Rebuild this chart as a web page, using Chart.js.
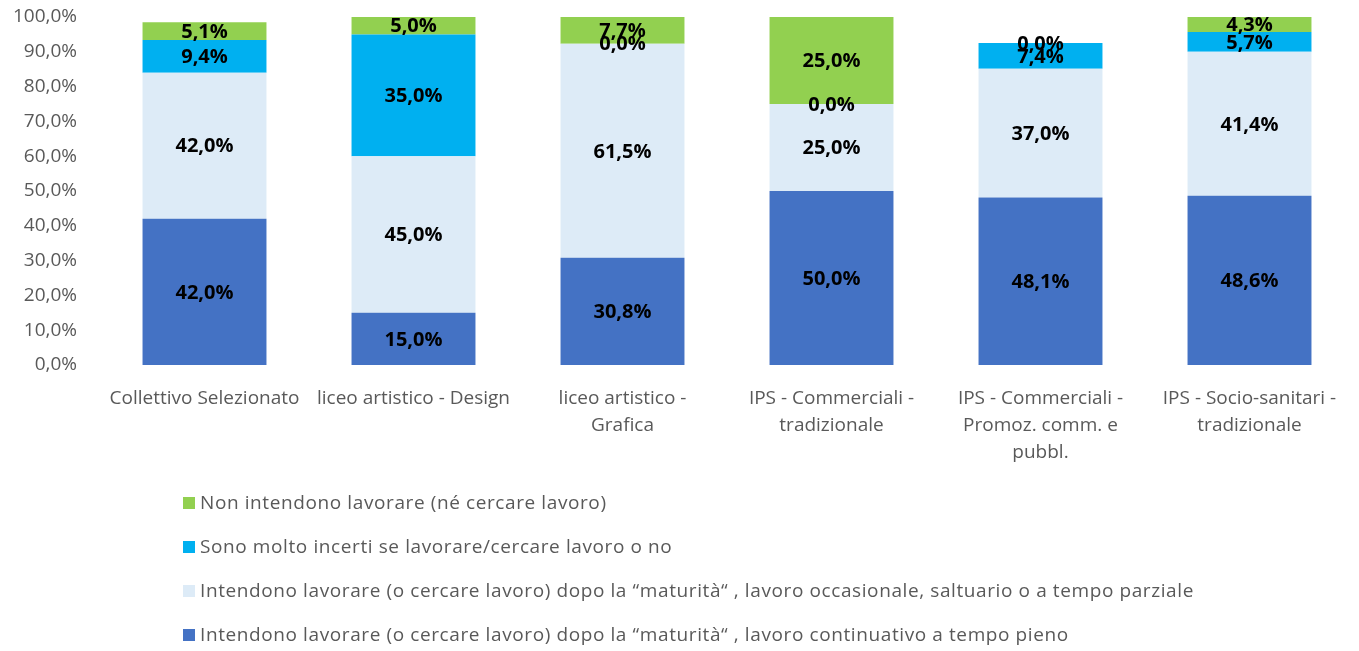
<!DOCTYPE html>
<html>
<head>
<meta charset="utf-8">
<script src="https://cdn.jsdelivr.net/npm/chart.js@4"></script>
<style>
  body { margin: 0; background: #fff; }
  #wrap { position: relative; width: 1359px; height: 651px; }
  #legend { position: absolute; left: 183px; top: 489px; font-family: 'Open Sans', sans-serif; font-size: 19px; letter-spacing: 0.6px; color: #595959; }
  .item { height: 44px; display: flex; align-items: flex-start; white-space: nowrap; }
  .box { width: 12px; height: 12px; margin: 8px 5px 0 0; flex: none; }
</style>
</head>
<body>
<div id="wrap">
  <canvas id="barChart" width="1359" height="651"></canvas>
  <div id="legend"></div>
</div>
<script>
var barCtx = document.getElementById('barChart').getContext('2d');

// categories (tick labels, wrapped as in the original)
const labels = [
    'Collettivo Selezionato',
    'liceo artistico - Design',
    ['liceo artistico -', 'Grafica'],
    ['IPS - Commerciali -', 'tradizionale'],
    ['IPS - Commerciali -', 'Promoz. comm. e', 'pubbl.'],
    ['IPS - Socio-sanitari -', 'tradizionale']
];

// series values (%)
const fullTime = [42.0, 15.0, 30.8, 50.0, 48.1, 48.6];
const partTime = [42.0, 45.0, 61.5, 25.0, 37.0, 41.4];
const uncertain = [9.4, 35.0, 0.0, 0.0, 7.4, 5.7];
const notWork = [5.1, 5.0, 7.7, 25.0, 0.0, 4.3];

const seriesNames = [
    'Intendono lavorare (o cercare lavoro) dopo la \u201cmaturit\u00e0\u201c , lavoro continuativo a tempo pieno',
    'Intendono lavorare (o cercare lavoro) dopo la \u201cmaturit\u00e0\u201c , lavoro occasionale, saltuario o a tempo parziale',
    'Sono molto incerti se lavorare/cercare lavoro o no',
    'Non intendono lavorare (n\u00e9 cercare lavoro)'
];
const colors = ['#4472C4', '#DDEBF7', '#00B0F0', '#92D050'];

const fmt = v => v.toFixed(1).replace('.', ',') + '%';

// draws the value in the middle of each segment
const valueLabels = {
    id: 'valueLabels',
    afterDatasetsDraw(chart) {
        const ctx = chart.ctx;
        ctx.save();
        ctx.font = 'bold 20px "Open Sans", sans-serif';
        ctx.fillStyle = '#000';
        ctx.textAlign = 'center';
        ctx.textBaseline = 'middle';
        chart.data.datasets.forEach((ds, i) => {
            chart.getDatasetMeta(i).data.forEach((bar, j) => {
                const y = (bar.y + bar.base) / 2;
                ctx.fillText(fmt(ds.data[j]), bar.x, y + 1);
            });
        });
        ctx.restore();
    }
};

const datasets = [fullTime, partTime, uncertain, notWork].map((d, i) => ({
    label: seriesNames[i],
    data: d,
    backgroundColor: colors[i],
    borderWidth: 0,
    barPercentage: 0.593,
    categoryPercentage: 1
}));

new Chart(barCtx, {
    type: 'bar',
    data: { labels: labels, datasets: datasets },
    options: {
        responsive: false,
        animation: false,
        layout: { padding: { top: 17, right: 5, bottom: 0, left: 0 } },
        plugins: { legend: { display: false }, tooltip: { enabled: false } },
        scales: {
            x: {
                stacked: true,
                grid: { display: false },
                border: { display: false },
                ticks: {
                    color: '#595959',
                    font: { family: "'Open Sans', sans-serif", size: 19, lineHeight: 1.42 },
                    maxRotation: 0,
                    autoSkip: false,
                    padding: 12
                },
                afterFit(scale) { scale.height = 286; }
            },
            y: {
                stacked: true,
                min: 0,
                max: 100,
                grid: { display: false },
                border: { display: false },
                ticks: {
                    stepSize: 10,
                    color: '#595959',
                    font: { family: "'Open Sans', sans-serif", size: 19 },
                    padding: 15,
                    callback: v => fmt(v)
                },
                afterFit(scale) {
                    scale.width = 100;
                    scale.paddingTop = 0;
                    scale.paddingBottom = 0;
                }
            }
        }
    },
    plugins: [valueLabels]
});

// legend, top entry is the last series
const legend = document.getElementById('legend');
for (let i = datasets.length - 1; i >= 0; i--) {
    const row = document.createElement('div');
    row.className = 'item';
    row.innerHTML = '<span class="box" style="background:' + colors[i] + '"></span><span></span>';
    row.lastChild.textContent = seriesNames[i];
    legend.appendChild(row);
}
</script>
</body>
</html>
